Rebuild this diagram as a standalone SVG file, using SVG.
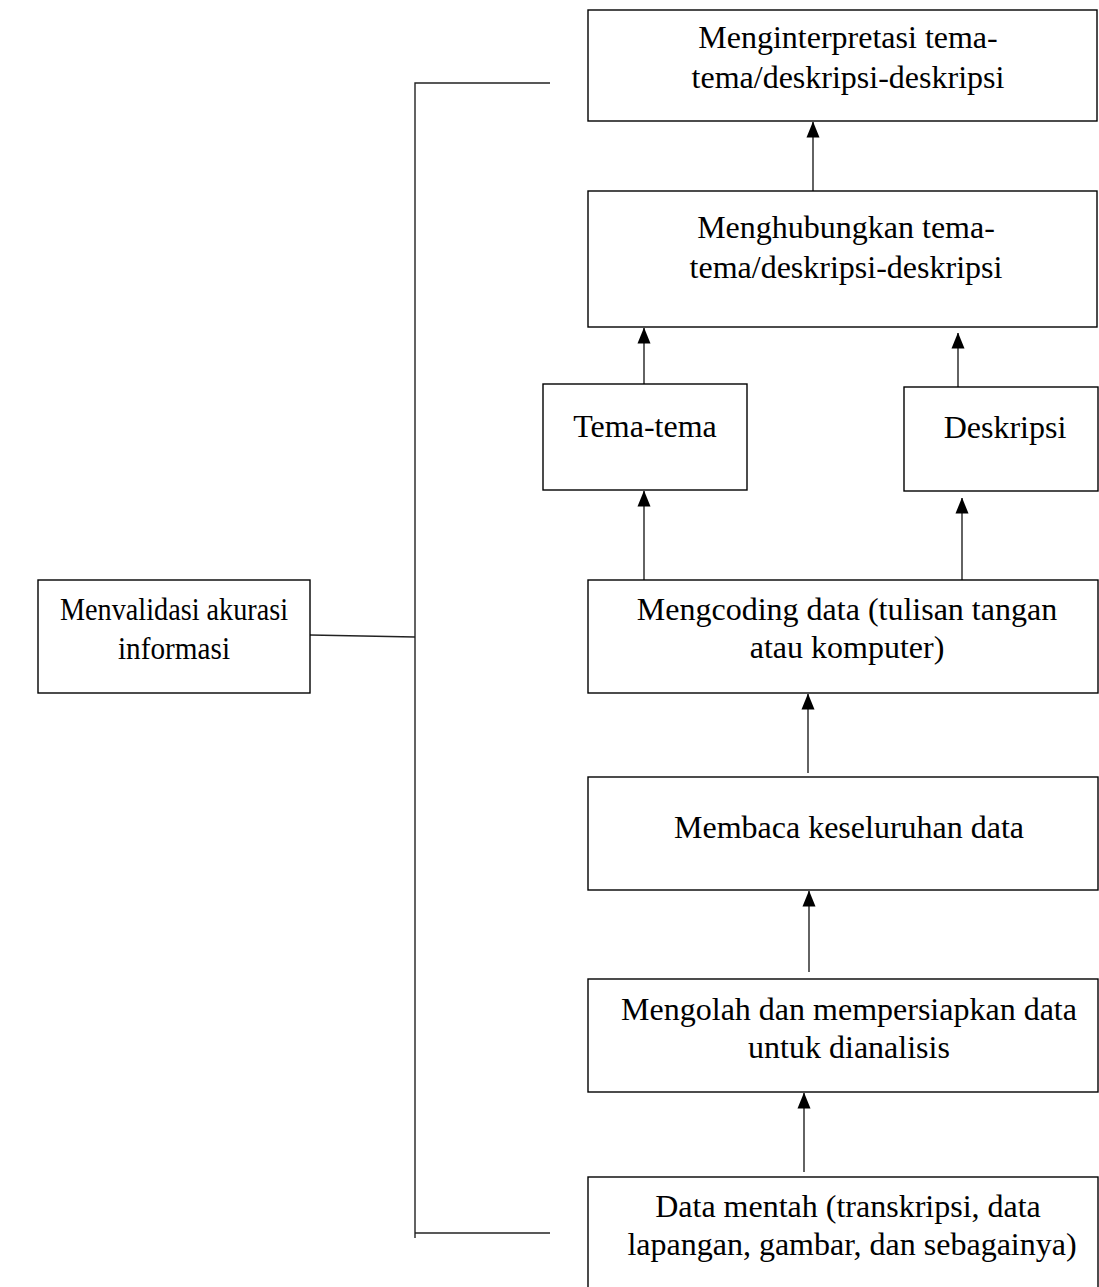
<svg xmlns="http://www.w3.org/2000/svg" width="1099" height="1287" viewBox="0 0 1099 1287">
<style>
.box{fill:#fff;stroke:#000;stroke-width:1.4}
.ln{fill:none;stroke:#222;stroke-width:1.4}
text{font-family:"Liberation Serif","Times New Roman",serif;font-size:32px;fill:#000;text-anchor:middle}
</style>
<defs>
<marker id="ah" markerUnits="userSpaceOnUse" markerWidth="16" markerHeight="14" viewBox="0 0 16 14" refX="15.5" refY="7" orient="auto">
<path d="M0,0.5 L16,7 L0,13.5 Z" fill="#000"/>
</marker>
</defs>
<rect width="1099" height="1287" fill="#fff"/>
<g id="connectors">
<line class="ln" x1="813" y1="191" x2="813" y2="122" marker-end="url(#ah)"/>
<line class="ln" x1="644" y1="384" x2="644" y2="328" marker-end="url(#ah)"/>
<line class="ln" x1="958" y1="388" x2="958" y2="333" marker-end="url(#ah)"/>
<line class="ln" x1="644" y1="580" x2="644" y2="491" marker-end="url(#ah)"/>
<line class="ln" x1="962" y1="585" x2="962" y2="498" marker-end="url(#ah)"/>
<line class="ln" x1="808" y1="773" x2="808" y2="694" marker-end="url(#ah)"/>
<line class="ln" x1="809" y1="972" x2="809" y2="891" marker-end="url(#ah)"/>
<line class="ln" x1="804" y1="1172" x2="804" y2="1093" marker-end="url(#ah)"/>
<polyline class="ln" points="550,83 415,83 415,1238"/>
<line class="ln" x1="415" y1="1233" x2="550" y2="1233"/>
<line class="ln" x1="310" y1="635" x2="415" y2="637"/>
</g>
<g id="n1">
<rect class="box" x="588" y="10" width="509" height="111"/>
<text x="848" y="48">Menginterpretasi tema-</text>
<text x="848" y="88">tema/deskripsi-deskripsi</text>
</g>
<g id="n2">
<rect class="box" x="588" y="191" width="509" height="136"/>
<text x="846" y="238">Menghubungkan tema-</text>
<text x="846" y="278">tema/deskripsi-deskripsi</text>
</g>
<g id="n3">
<rect class="box" x="543" y="384" width="204" height="106"/>
<text x="645" y="437">Tema-tema</text>
</g>
<g id="n4">
<rect class="box" x="904" y="387" width="194" height="104"/>
<text x="1005" y="438">Deskripsi</text>
</g>
<g id="n5">
<rect class="box" x="588" y="580" width="510" height="113"/>
<text x="847" y="620">Mengcoding data (tulisan tangan</text>
<text x="847" y="658">atau komputer)</text>
</g>
<g id="n6">
<rect class="box" x="588" y="777" width="510" height="113"/>
<text x="849" y="838">Membaca keseluruhan data</text>
</g>
<g id="n7">
<rect class="box" x="588" y="979" width="510" height="113"/>
<text x="849" y="1020">Mengolah dan mempersiapkan data</text>
<text x="849" y="1058">untuk dianalisis</text>
</g>
<g id="n8">
<rect class="box" x="588" y="1177" width="510" height="130"/>
<text x="848" y="1217">Data mentah (transkripsi, data</text>
<text x="852" y="1255">lapangan, gambar, dan sebagainya)</text>
</g>
<g id="n9">
<rect class="box" x="38" y="580" width="272" height="113"/>
<text x="174" y="620" textLength="228" lengthAdjust="spacingAndGlyphs">Menvalidasi akurasi</text>
<text x="174" y="659" textLength="112" lengthAdjust="spacingAndGlyphs">informasi</text>
</g>
</svg>
